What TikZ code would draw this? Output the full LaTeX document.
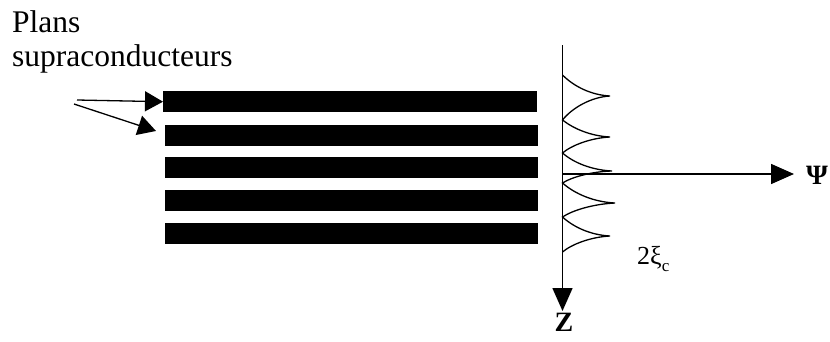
\documentclass[tikz,border=0pt]{standalone}
\usepackage{fontspec}
\setmainfont{Liberation Serif}
\usetikzlibrary{arrows.meta}
\begin{document}
\begin{tikzpicture}[x=1pt,y=-1pt,
  bar/.style={fill=black,inner sep=0pt,anchor=north west,minimum height=21pt,minimum width=374pt},
  lbl/.style={inner sep=0pt,font=\fontsize{31.5}{36}\selectfont},
  pointer/.style={-{Triangle[length=18pt,width=20pt]},line width=1.3pt},
  axis/.style={-{Triangle[length=23pt,width=20pt]},line width=1.6pt},
  wave/.style={line width=1.3pt}]
\useasboundingbox (0,0) rectangle (830,341);
% bars
\node[bar] (b1) at (163,91) {};
\node[bar,minimum width=373pt] (b2) at (165,125) {};
\node[bar,minimum width=373pt] (b3) at (165,157) {};
\node[bar,minimum width=373pt] (b4) at (165,190) {};
\node[bar,minimum width=373pt] (b5) at (165,223) {};
% labels
\node[lbl,anchor=base west] (plans) at (12,32) {Plans};
\node[lbl,anchor=base west] (supra) at (12,66) {supraconducteurs};
% pointers
\coordinate (s1) at (77,100);
\coordinate (s2) at (74,104);
\coordinate (t2) at (156,131);
\draw[pointer] (s1) -- (b1.west);
\draw[pointer] (s2) -- (t2);
% axes
\coordinate (ztop) at (562.5,45);
\coordinate (zend) at (562.5,311);
\coordinate (o) at (562.5,174);
\coordinate (pend) at (794,174);
\draw[axis] (ztop) -- (zend);
\draw[axis] (o) -- (pend);
\node[lbl,font=\fontsize{28}{32}\selectfont\bfseries,anchor=base] (z) at (564,331) {Z};
\node[lbl,font=\fontsize{28}{32}\selectfont\bfseries,anchor=base west] (psi) at (806,184) {Ψ};
% wave
\draw[wave] (562.5,75)
  .. controls (574,86.5) and (591,95) .. (610,96)
  .. controls (591,97) and (572,108) .. (562.5,120)
  .. controls (574,129) and (591,136) .. (610,137)
  .. controls (591,138) and (572,145) .. (562.5,153)
  .. controls (574,163) and (592,170) .. (612,171)
  .. controls (592,171.5) and (572,177) .. (562.5,183)
  .. controls (575,194) and (594,202) .. (615,203)
  .. controls (594,204) and (573,210) .. (562.5,217)
  .. controls (574,227.5) and (591,235) .. (610,236)
  .. controls (591,237) and (572,244) .. (562.5,252);
% label
\node[lbl,font=\fontsize{26}{30}\selectfont,anchor=base west] (xi) at (637,264) {2ξ\raisebox{-0.3em}{\fontsize{17}{17}\selectfont c}};
\end{tikzpicture}
\end{document}
